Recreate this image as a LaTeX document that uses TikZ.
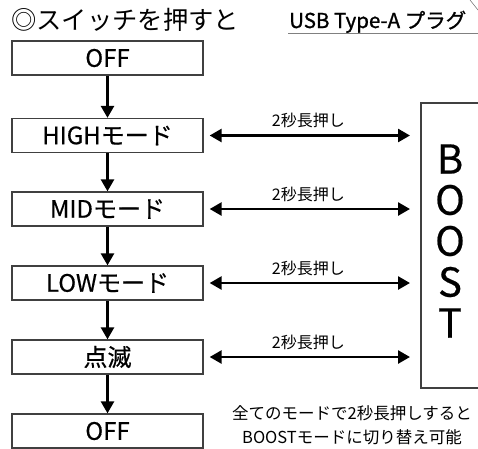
\documentclass[tikz,border=0pt]{standalone}
\usepackage{fontspec}
\setmainfont{Noto Sans CJK JP}
\newfontfamily\medfont{Noto Sans CJK JP}[FakeBold=0.5]
\newfontfamily\semifont{Noto Sans CJK JP}[FakeBold=1.1]
\usetikzlibrary{arrows.meta}
\begin{document}
\begin{tikzpicture}[x=1pt,y=-1pt,
  modebox/.style={draw=black!75,line width=1.3pt,minimum width=191pt,minimum height=34pt,inner sep=0pt,font=\medfont\fontsize{24}{26}\selectfont},
  flow/.style={line width=2.6pt,-{Triangle[length=12pt,width=13pt]}},
  dbl/.style={line width=2.6pt,{Triangle[length=12pt,width=13pt]}-{Triangle[length=12pt,width=13pt]}},
  lbl/.style={font=\fontsize{16}{17}\selectfont,inner sep=0pt}]
\useasboundingbox (0,0) rectangle (478,448);
\fill[white] (0,0) rectangle (478,448);
% headings
\node[anchor=base west,inner sep=0pt,font=\fontsize{25.3}{26}\selectfont] (title) at (11,29.5) {◎スイッチを押すと};
\node[anchor=base west,inner sep=0pt,font=\semifont\fontsize{20.5}{21}\selectfont] (usb) at (289,28) {USB Type-A プラグ};
\coordinate (ulA) at (288,33.5);
\coordinate (ulB) at (478,33.5);
\draw[black!50,line width=0.9pt] (ulA) -- (ulB);
\coordinate (dgA) at (470,0);
\coordinate (dgB) at (478,10);
\draw[black!50,line width=0.6pt] (dgA) -- (dgB);
% mode boxes
\node[modebox] (off1) at (107.5,58) {OFF};
\node[modebox] (high) at (107.5,135.5) {HIGHモード};
\node[modebox] (mid) at (107.5,209) {MIDモード};
\node[modebox] (low) at (107.5,283) {LOWモード};
\node[modebox] (blink) at (107.5,357) {点滅};
\node[modebox] (off2) at (107.5,431) {OFF};
\draw[flow] (off1) -- (high);
\draw[flow] (high) -- (mid);
\draw[flow] (mid) -- (low);
\draw[flow] (low) -- (blink);
\draw[flow] (blink) -- (off2);
% BOOST box
\coordinate (bTR) at (478,103);
\coordinate (bBL) at (421,388);
\coordinate (bBR) at (478,388);
\draw[black!75,line width=1.3pt] (bTR) -| (bBL) -- (bBR);
\node[inner sep=0pt,align=center,font=\medfont\fontsize{40}{41}\selectfont] (boost) at (450,241) {B\\O\\O\\S\\T};
\coordinate (bw) at (421,0);
% double arrows
\foreach \n in {high,mid,low,blink}{
  \draw[dbl,shorten <=6pt,shorten >=11pt] (\n.east) -- (\n.east -| bw)
    node[lbl,midway,above=6pt,xshift=-4pt] {2秒長押し};
}
% note
\node[align=center,inner sep=0pt,font=\fontsize{16.5}{24}\selectfont] (note) at (352,425) {全てのモードで2秒長押しすると\\BOOSTモードに切り替え可能};
\end{tikzpicture}
\end{document}
